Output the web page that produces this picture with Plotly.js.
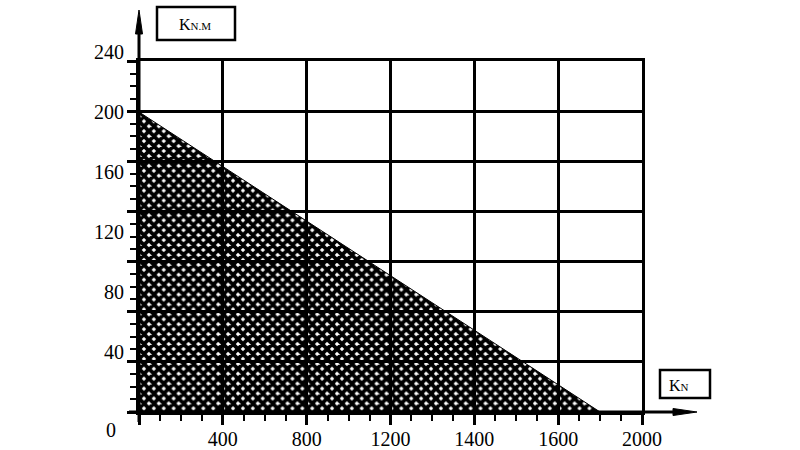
<!DOCTYPE html>
<html>
<head>
<meta charset="utf-8">
<script src="https://cdn.plot.ly/plotly-3.0.1.min.js"></script>
<style>html,body{margin:0;padding:0;background:#fff;}#chart{width:800px;height:450px;}</style>
</head>
<body>
<div id="chart"></div>
<script>
// Load envelope (moment vs axial force)
var loadX = [0, 0, 2200];          // axis units (grid position, 400 per grid column)
var loadY = [0, 200, 0];           // KN.M
// x grid columns and their printed labels (as printed in the original)
var xTickVals = [0, 400, 800, 1200, 1600, 2000, 2400];
var xTickText = ["", "400", "800", "1200", "1400", "1600", "2000"];
// y labels
var yLabelVals = [40, 80, 120, 160, 200, 240];
var yLabelText = ["40", "80", "120", "160", "200", "240"];
var yUnit = 'K<span style="font-size:11px">N.M</span>';
var xUnit = 'K<span style="font-size:11px">N</span>';
var zeroLabel = "0";

var L = 139, R = 642, B = 412, T = 52;
var W = R - L, H = B - T;
function px(x) { return (x - L) / W; }
function py(y) { return (B - y) / H; }

var font = {family: "Liberation Serif, serif", size: 20, color: "#000"};

var traces = [
  {
    x: loadX, y: loadY, xaxis: 'x', yaxis: 'y',
    type: 'scatter', mode: 'lines',
    fill: 'toself', fillcolor: 'rgba(0,0,0,0)',
    fillpattern: {shape: 'x', fgcolor: '#000', bgcolor: 'rgba(0,0,0,0)', size: 7, solidity: 0.8},
    line: {color: '#000', width: 1},
    hoverinfo: 'skip', showlegend: false
  },
  // grid subplot
  {x: [], y: [], xaxis: 'x2', yaxis: 'y2', type: 'scatter', mode: 'lines', showlegend: false, hoverinfo: 'skip'}
];

var layout = {
  width: 800, height: 450,
  margin: {l: L, r: 800 - R, t: T, b: 450 - B, pad: 0},
  paper_bgcolor: '#fff', plot_bgcolor: 'rgba(0,0,0,0)',
  showlegend: false,
  font: font,
  xaxis: {
    range: [0, 2400], domain: [0, 1], anchor: 'y',
    tickmode: 'array', tickvals: xTickVals, ticktext: xTickText,
    showgrid: false,
    ticks: 'outside', ticklen: 10, tickwidth: 3, tickcolor: '#000',
    ticklabelstandoff: -3,
    minor: {tickmode: 'linear', tick0: 0, dtick: 100, ticks: 'outside', ticklen: 6, tickwidth: 2, tickcolor: '#000', showgrid: false},
    showline: true, linecolor: '#000', linewidth: 3,
    zeroline: false, layer: 'above traces',
    tickfont: font, fixedrange: true
  },
  xaxis2: {
    range: [0, 2400], domain: [0, 1], anchor: 'y2',
    tickmode: 'array', tickvals: xTickVals,
    showticklabels: false, ticks: '',
    showgrid: true, gridcolor: '#000', gridwidth: 3,
    showline: true, mirror: true, linecolor: '#000', linewidth: 3,
    zeroline: false, layer: 'above traces', fixedrange: true
  },
  yaxis: {
    range: [0, 240], domain: [0, 1], anchor: 'x',
    tickmode: 'array', tickvals: yLabelVals, ticktext: yLabelText,
    showgrid: false, zeroline: false, showline: false,
    ticks: 'outside', ticklen: 10, tickcolor: 'rgba(0,0,0,0)',
    tickfont: font, fixedrange: true
  },
  yaxis2: {
    range: [0, 1400 / 6 + 0.02], domain: [0, 351 / 360], anchor: 'x2',
    tickmode: 'linear', tick0: 0, dtick: 200 / 6,
    showticklabels: false,
    showgrid: true, gridcolor: '#000', gridwidth: 3,
    ticks: 'outside', ticklen: 9, tickwidth: 3, tickcolor: '#000',
    minor: {tickmode: 'linear', tick0: 0, dtick: 200 / 24, ticks: 'outside', ticklen: 6, tickwidth: 2, tickcolor: '#000', showgrid: false},
    showline: true, mirror: true, linecolor: '#000', linewidth: 3,
    zeroline: false, layer: 'above traces', fixedrange: true
  },
  shapes: [
    {type: 'line', xref: 'paper', yref: 'paper', x0: 0, x1: 0, y0: py(422), y1: py(32), line: {color: '#000', width: 3}},
    {type: 'path', xref: 'paper', yref: 'paper',
     path: 'M ' + px(135.5) + ' ' + py(34) + ' L ' + px(139) + ' ' + py(10) + ' L ' + px(142.5) + ' ' + py(34) + ' Z',
     fillcolor: '#000', line: {color: '#000', width: 1}},
    {type: 'line', xref: 'paper', yref: 'paper', x0: px(129), x1: px(675), y0: 0, y1: 0, line: {color: '#000', width: 3}},
    {type: 'path', xref: 'paper', yref: 'paper',
     path: 'M ' + px(673) + ' ' + py(408.5) + ' L ' + px(697) + ' ' + py(412) + ' L ' + px(673) + ' ' + py(415.5) + ' Z',
     fillcolor: '#000', line: {color: '#000', width: 1}},
    {type: 'rect', xref: 'paper', yref: 'paper', x0: px(157), x1: px(235), y0: py(40), y1: py(7), line: {color: '#000', width: 2.5}, fillcolor: 'rgba(0,0,0,0)'},
    {type: 'rect', xref: 'paper', yref: 'paper', x0: px(660), x1: px(710), y0: py(398), y1: py(370), line: {color: '#000', width: 2.5}, fillcolor: 'rgba(0,0,0,0)'}
  ],
  annotations: [
    {xref: 'paper', yref: 'paper', x: px(195), y: py(24), text: yUnit, showarrow: false, xanchor: 'center', yanchor: 'middle',
     font: {family: "Liberation Serif, serif", size: 16, color: '#000'}},
    {xref: 'paper', yref: 'paper', x: px(679), y: py(385), text: xUnit, showarrow: false, xanchor: 'center', yanchor: 'middle',
     font: {family: "Liberation Serif, serif", size: 16, color: '#000'}},
    {xref: 'paper', yref: 'paper', x: px(111), y: py(430), text: zeroLabel, showarrow: false, xanchor: 'center', yanchor: 'middle', font: font}
  ]
};

Plotly.newPlot('chart', traces, layout, {staticPlot: true, displayModeBar: false});
</script>
</body>
</html>
